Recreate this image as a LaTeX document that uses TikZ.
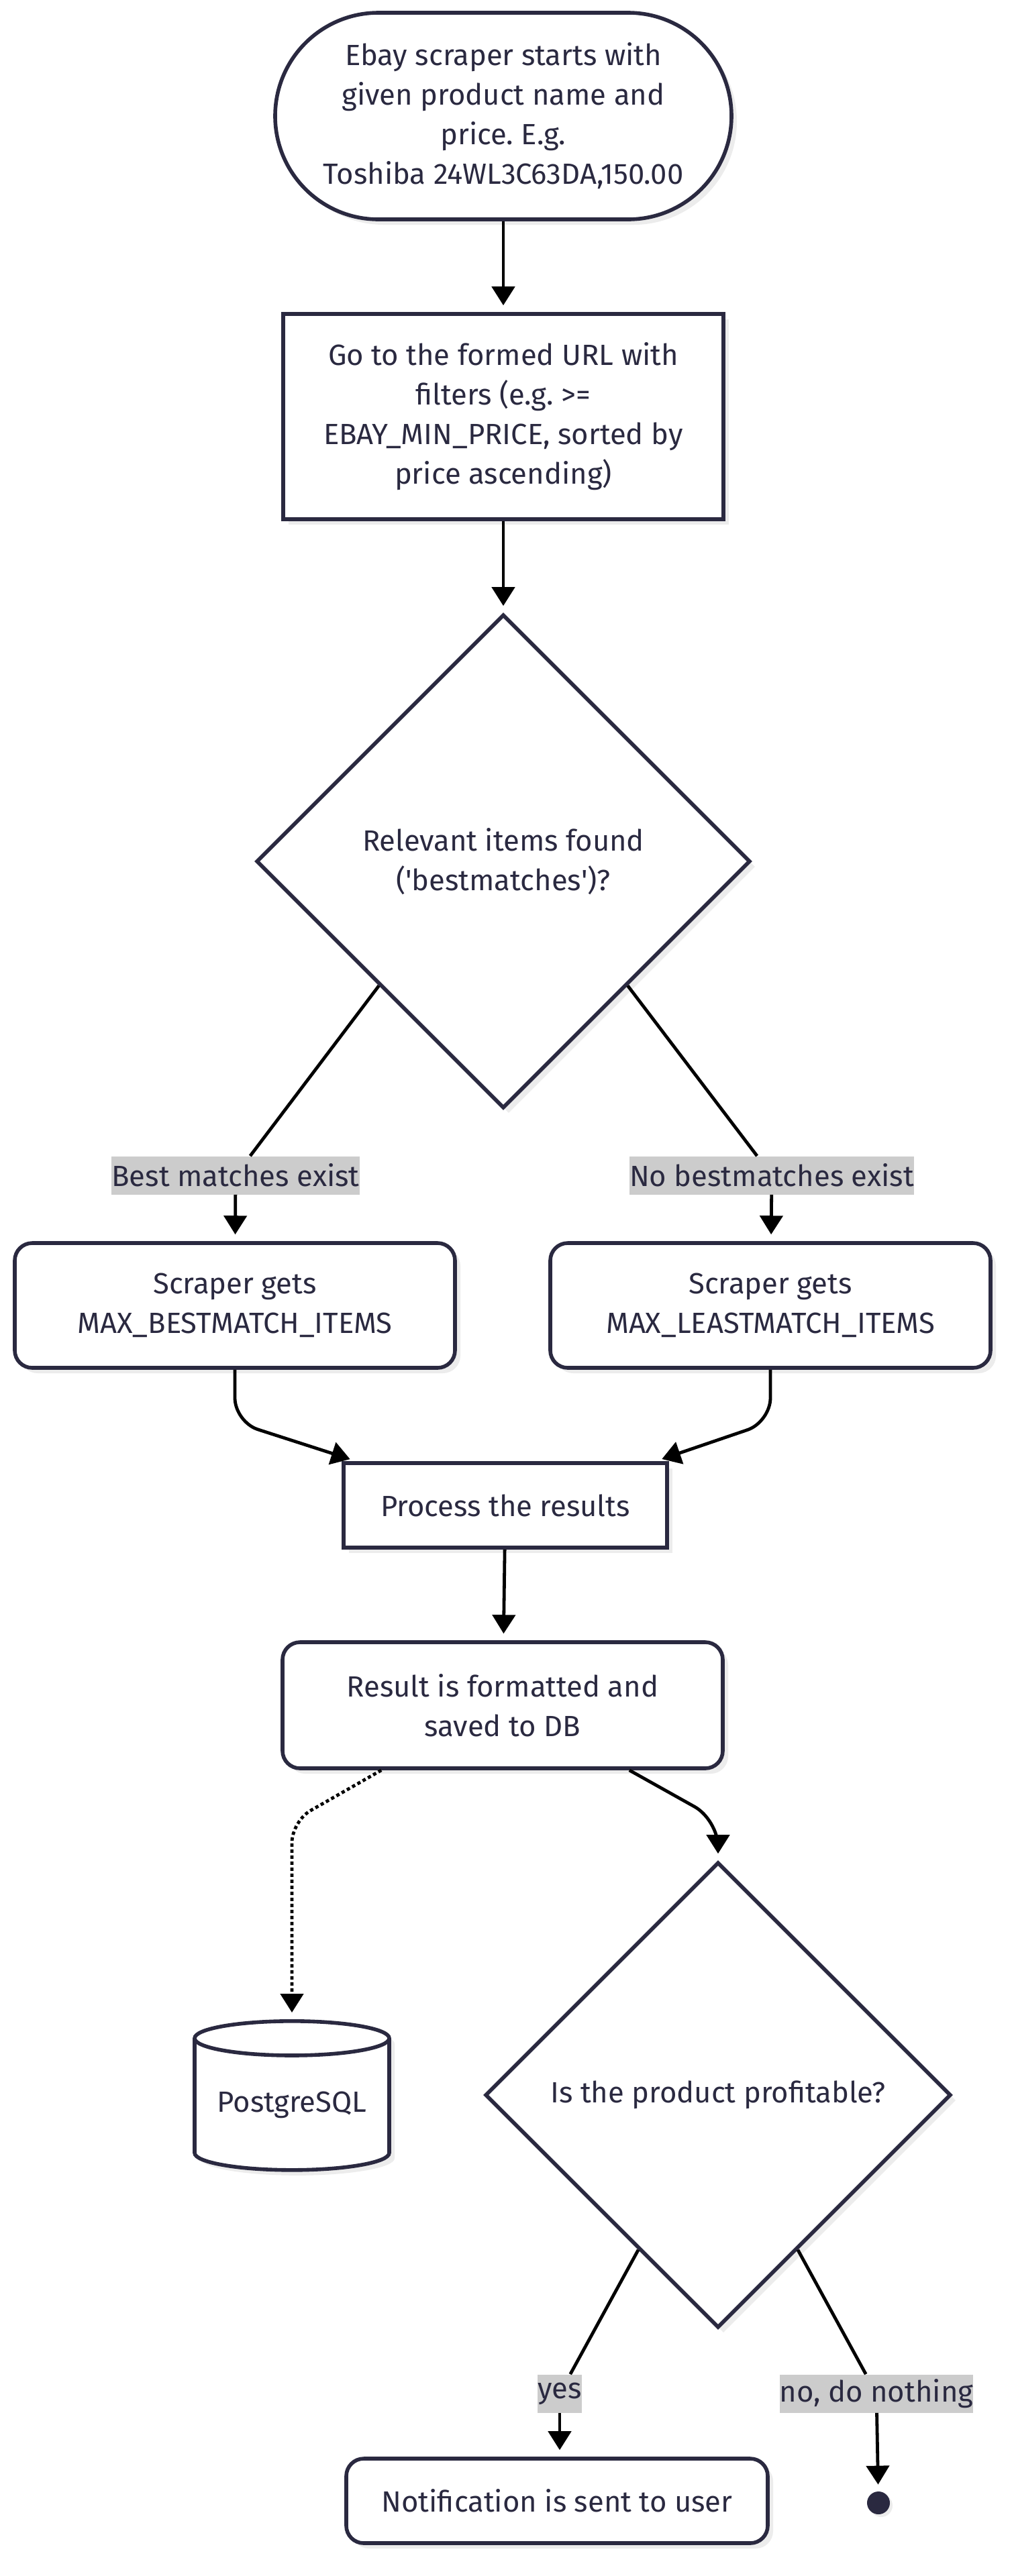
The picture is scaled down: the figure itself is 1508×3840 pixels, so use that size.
\documentclass[tikz,border=0pt]{standalone}
\usepackage{fontspec}
\setmainfont{Fira Sans}
\usetikzlibrary{arrows.meta,shapes.geometric,shadows,calc}
\frenchspacing

\definecolor{ink}{HTML}{2A2940}
\definecolor{lblgray}{HTML}{CCCCCC}
\definecolor{shade}{HTML}{ECECEC}

\newcommand{\flowfont}{\fontsize{21.8pt}{29.5pt}\selectfont}

\tikzset{
  base/.style={draw=ink, line width=2.8pt, fill=white, text=ink, align=center,
    font=\flowfont, inner sep=0pt,
    drop shadow={shadow xshift=4pt, shadow yshift=-4pt, fill=shade, opacity=1}},
  stadium/.style={base, rectangle, rounded corners=77pt, minimum width=340pt, minimum height=154pt},
  plainbox/.style={base, rectangle},
  roundbox/.style={base, rectangle, rounded corners=13pt},
  decision/.style={base, diamond, aspect=1},
  store/.style={base, cylinder, shape border rotate=90, aspect=0.23},
  enddot/.style={circle, fill=ink, minimum size=17pt, inner sep=0pt,
    drop shadow={shadow xshift=2pt, shadow yshift=-2pt, fill=shade, opacity=1}},
  lbl/.style={fill=lblgray, text=ink, font=\flowfont, inner xsep=0pt, inner ysep=0pt,
    minimum height=28.5pt},
  line/.style={draw=black, line width=2.4pt},
  flow/.style={line, -{Triangle[length=14pt,width=17pt]}, shorten >=5pt},
  flowdot/.style={flow, dash pattern=on 2.5pt off 2pt}
}

\begin{document}
\begin{tikzpicture}[x=0.5pt,y=-0.5pt]
  \fill[white] (0,0) rectangle (1508,3840);

  % main column
  \node[stadium] (start) at (750,173)
    {Ebay scraper starts with\\given product name and\\price. E.g.\\Toshiba 24WL3C63DA,150.00};
  \node[plainbox, minimum width=328pt, minimum height=153pt] (goto) at (750,621)
    {Go to the formed URL with\\filters (e.g. >=\\EBAY\_MIN\_PRICE, sorted by\\price ascending)};
  \node[decision, minimum width=368pt, minimum height=368pt] (dec1) at (750,1284)
    {Relevant items found\\(\textquotesingle bestmatches\textquotesingle)?};

  % branches
  \node[lbl] (lblbest) at (351,1752) {Best matches exist};
  \node[lbl] (lblnobest) at (1150,1752) {No bestmatches exist};
  \node[roundbox, minimum width=328pt, minimum height=93pt] (scrbest) at (350,1946)
    {Scraper gets\\MAX\_BESTMATCH\_ITEMS};
  \node[roundbox, minimum width=328pt, minimum height=93pt] (scrleast) at (1148,1946)
    {Scraper gets\\MAX\_LEASTMATCH\_ITEMS};

  \node[plainbox, minimum width=241pt, minimum height=63pt] (proc) at (753,2244)
    {Process the results};
  \node[roundbox, minimum width=328pt, minimum height=94pt] (result) at (749,2542)
    {Result is formatted and\\saved to DB};

  \node[store, minimum width=145pt, minimum height=111pt] (db) at (435,3138) {PostgreSQL};
  \node[decision, minimum width=347pt, minimum height=347pt] (dec2) at (1070,3123)
    {Is the product profitable?};

  \node[lbl] (lblyes) at (834,3568) {yes};
  \node[lbl] (lblno) at (1306,3568) {no, do nothing};
  \node[roundbox, minimum width=314pt, minimum height=63pt] (notify) at (830,3728)
    {Notification is sent to user};
  \node[enddot] (stop) at (1309,3731) {};

  % connectors
  \draw[flow] (start) -- (goto);
  \draw[flow] (goto) -- (dec1);
  \draw[line] (dec1.south west) -- (lblbest);
  \draw[line] (dec1.south east) -- (lblnobest);
  \draw[flow] (lblbest) -- (scrbest);
  \draw[flow] (lblnobest) -- (scrleast);
  \draw[flow, rounded corners=18pt] (scrbest.south) -- ++(0,78) -- ([xshift=11pt]proc.north west);
  \draw[flow, rounded corners=18pt] (scrleast.south) -- ++(0,78) -- ([xshift=-10pt]proc.north east);
  \draw[flow] (proc) -- (result);
  \draw[flowdot, rounded corners=16pt] ([xshift=75pt]result.south west)
    -- ($(db.north |- result.south)+(0,76)$) -- (db.north);
  \draw[flow, rounded corners=20pt] ([xshift=-71pt]result.south east)
    -- ($(dec2.north |- result.south)+(0,74)$) -- (dec2.north);
  \draw[line] ($(dec2.west)!0.66!(dec2.south)$) -- (lblyes);
  \draw[line] ($(dec2.east)!0.66!(dec2.south)$) -- (lblno);
  \draw[flow] (lblyes) -- (lblyes |- notify.north);
  \draw[flow] (lblno) -- (stop);
\end{tikzpicture}
\end{document}
